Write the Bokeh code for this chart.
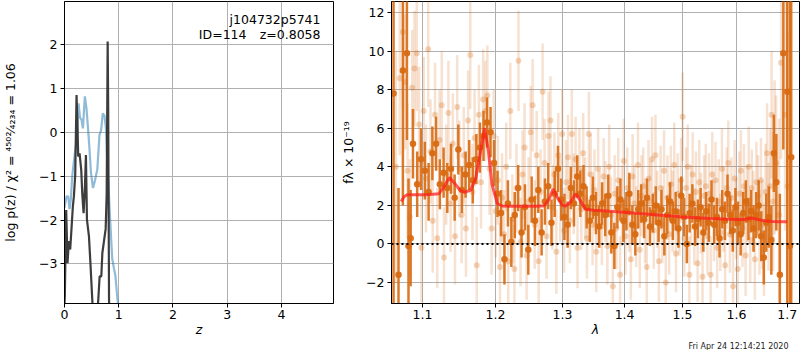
from bokeh.plotting import figure
from bokeh.models import Range1d, FixedTicker, CustomJSTickFormatter, Span, Label, ColumnDataSource, Title
from bokeh.layouts import row
from bokeh.embed import file_html
from bokeh.resources import INLINE

FONT = "DejaVu Sans"
FS = "12.5px"

# ---------------- left panel: log p(z) ----------------
z_dark = [0.0, 0.006, 0.031, 0.056, 0.080, 0.105, 0.130, 0.154, 0.173, 0.198,
          0.222, 0.241, 0.253, 0.278, 0.309, 0.327, 0.352, 0.377, 0.395, 0.414,
          0.451, 0.481, 0.512, 0.540, 0.580, 0.623, 0.648, 0.679, 0.698, 0.728,
          0.759, 0.778, 0.796, 0.806, 0.821, 0.850]
lp_dark = [-3.90, -3.73, -1.77, -2.98, -2.48, -2.67, -2.18, -1.69, -1.46, -0.97,
           0.85, 0.05, -0.55, -0.48, -0.86, -1.39, -1.84, -1.23, -0.52, -1.99,
           -2.37, -3.05, -3.81, -4.40, -4.60, -3.81, -3.28, -3.28, -2.75, -2.48,
           -2.20, -1.39, 2.07, 0.50, -3.81, -5.00]

z_blue = [0.0, 0.037, 0.068, 0.093, 0.117, 0.142, 0.173, 0.204, 0.231, 0.259,
          0.285, 0.315, 0.340, 0.375, 0.405, 0.433, 0.458, 0.487, 0.525, 0.562,
          0.605, 0.645, 0.675, 0.706, 0.738, 0.764, 0.800, 0.840, 0.880, 0.912,
          0.940, 0.972, 1.003, 1.070]
lp_blue = [-1.72, -1.46, -1.46, -1.75, -1.52, -1.01, -0.66, -0.36, -0.12, 0.66,
           0.34, 0.28, 0.09, 0.82, 0.55, 0.10, -0.33, -0.90, -1.27, -1.10,
           -0.84, -0.06, 0.05, 0.43, 0.38, 0.08, -0.97, -1.95, -2.88, -3.10,
           -3.28, -3.75, -4.05, -5.20]

z_ticks = [0, 1, 2, 3, 4]
lp_ticks = [-3, -2, -1, 0, 1, 2]

# ---------------- right panel: spectrum ----------------
lam_dark = [1.0626, 1.0689, 1.0745, 1.0797, 1.0817, 1.0845, 1.0875,
            1.093, 1.098, 1.103, 1.108, 1.113, 1.118, 1.123, 1.128, 1.133, 1.138,
            1.143, 1.148, 1.153, 1.158, 1.163, 1.168, 1.173, 1.178, 1.183, 1.188,
            1.193, 1.198, 1.203, 1.208, 1.213, 1.218, 1.223, 1.228, 1.233, 1.238,
            1.243, 1.248, 1.253, 1.258, 1.263, 1.268, 1.273, 1.278, 1.283, 1.288,
            1.293, 1.298, 1.303, 1.308, 1.313, 1.318, 1.323, 1.328, 1.333, 1.338,
            1.343, 1.348, 1.353, 1.358, 1.363, 1.368, 1.373, 1.378, 1.383, 1.388,
            1.393, 1.398, 1.403, 1.408, 1.413, 1.418, 1.423, 1.428, 1.433, 1.438,
            1.443, 1.448, 1.453, 1.458, 1.463, 1.468, 1.473, 1.478, 1.483, 1.488,
            1.493, 1.498, 1.503, 1.508, 1.513, 1.518, 1.523, 1.528, 1.533, 1.538,
            1.543, 1.548, 1.553, 1.558, 1.563, 1.568, 1.573, 1.578, 1.583, 1.588,
            1.593, 1.598, 1.603, 1.608, 1.613, 1.618, 1.623, 1.628, 1.633, 1.638,
            1.643, 1.648, 1.653, 1.658, 1.663, 1.668,
            1.673, 1.678, 1.685, 1.692, 1.700, 1.7055, 1.708]
flux_dark = [7.8, -1.6, 9.0, 9.9, -0.1, 0.3, 5.2,
             3.1, 4.4, 3.8, 2.7, 4.7, 5.2, 3.1, 3.7, 2.9, 3.9,
             2.4, 4.9, 2.8, 3.6, 4.1, 3.3, 4.4, 5.0, 5.6, 6.3,
             5.8, 4.2, 2.6, 1.6, -0.8, 2.1, 0.1, 1.5, 2.9, 0.6,
             1.9, -0.3, 2.3, 1.2, 2.8, 0.6, 2.2, 3.0, 1.1, 2.6,
             3.9, 2.3, 1.4, 1.0, 2.9, 2.1, 3.5, 2.6, 3.0, 1.9,
             1.2, 2.4, 1.6, 0.9, 2.1, 1.5, 2.5, 0.6, -0.1, 1.9,
             2.3, 1.2, 1.7, 2.6, 1.0, 0.5, 1.8, 2.1, 1.3, 2.4,
             0.9, 1.6, 2.0, 1.1, 1.8, 0.4, 1.5, 2.2, 1.2, 1.7,
             0.8, 2.5, 1.4, 0.0, 1.6, 2.1, 0.9, 1.3, 1.9, 0.6,
             1.7, 1.1, 2.3, 1.0, 1.4, 0.3, 1.8, 1.2, 2.6, 1.5,
             0.7, 1.9, 1.1, 0.5, 1.6, 2.2, 1.3, 1.7, 0.8, 1.5,
             2.0, 0.4, -0.7, 1.1, 1.4, 0.2,
             4.7, 3.2, -1.6, 9.9, 7.9, -0.1, 4.5]
err_dark = [20.0, 4.5, 7.0, 4.5, 3.5, 2.5, 1.8,
            1.7, 1.6, 1.5, 1.5, 1.4, 1.4, 1.3, 1.3, 1.3, 1.3,
            1.2, 1.3, 1.2, 1.2, 1.3, 1.2, 1.3, 1.3, 1.3, 1.3,
            1.3, 1.2, 1.2, 1.2, 1.3, 1.2, 1.3, 1.2, 1.2, 1.3,
            1.2, 1.3, 1.2, 1.3, 1.2, 1.2, 1.2, 1.2, 1.2, 1.2,
            1.2, 1.1, 1.2, 1.2, 1.1, 1.2, 1.1, 1.2, 1.1, 1.1,
            1.1, 1.1, 1.1, 1.1, 1.1, 1.1, 1.1, 1.1, 1.2, 1.1,
            1.1, 1.1, 1.0, 1.1, 1.0, 1.1, 1.0, 1.0, 1.0, 1.0,
            1.0, 1.0, 1.0, 1.0, 1.0, 1.0, 1.0, 1.0, 1.0, 1.0,
            1.0, 1.0, 1.0, 1.0, 1.0, 1.0, 1.0, 1.0, 1.0, 1.0,
            1.0, 1.0, 1.0, 1.0, 1.0, 1.0, 1.0, 1.0, 1.0, 1.0,
            1.1, 1.0, 1.1, 1.1, 1.1, 1.1, 1.1, 1.1, 1.2, 1.2,
            1.3, 1.3, 1.4, 1.5, 1.6, 1.8,
            2.0, 2.5, 4.2, 5.0, 12.0, 13.0, 14.0]

lam_light = [1.0655, 1.0705, 1.0745, 1.0775, 1.0805, 1.0835, 1.0865, 1.0895, 1.0925, 1.0955,
             1.0985, 1.1015, 1.1045, 1.1075, 1.1105, 1.1135, 1.1165, 1.1195, 1.1225, 1.1255,
             1.1285, 1.1315, 1.1345, 1.1375, 1.1405, 1.1435, 1.1465, 1.1495, 1.1525, 1.1555,
             1.1585, 1.1615, 1.1645, 1.1675, 1.1705, 1.1735, 1.1765, 1.1795, 1.1825, 1.1855,
             1.1885, 1.1915, 1.1945, 1.1975, 1.2005, 1.2035, 1.2065, 1.2095, 1.2125, 1.2155,
             1.2185, 1.2215, 1.2245, 1.2275, 1.2305, 1.2335, 1.2365, 1.2395, 1.2425, 1.2455,
             1.2485, 1.2515, 1.2545, 1.2575, 1.2605, 1.2635, 1.2665, 1.2695, 1.2725, 1.2755,
             1.2785, 1.2815, 1.2845, 1.2875, 1.2905, 1.2935, 1.2965, 1.2995, 1.3025, 1.3055,
             1.3085, 1.3115, 1.3145, 1.3175, 1.3205, 1.3235, 1.3265, 1.3295, 1.3325, 1.3355,
             1.3385, 1.3415, 1.3445, 1.3475, 1.3505, 1.3535, 1.3565, 1.3595, 1.3625, 1.3655,
             1.3685, 1.3715, 1.3745, 1.3775, 1.3805, 1.3835, 1.3865, 1.3895, 1.3925, 1.3955,
             1.3985, 1.4015, 1.4045, 1.4075, 1.4105, 1.4135, 1.4165, 1.4195, 1.4225, 1.4255,
             1.4285, 1.4315, 1.4345, 1.4375, 1.4405, 1.4435, 1.4465, 1.4495, 1.4525, 1.4555,
             1.4585, 1.4615, 1.4645, 1.4675, 1.4705, 1.4735, 1.4765, 1.4795, 1.4825, 1.4855,
             1.4885, 1.4915, 1.4945, 1.4975, 1.5005, 1.5035, 1.5065, 1.5095, 1.5125, 1.5155,
             1.5185, 1.5215, 1.5245, 1.5275, 1.5305, 1.5335, 1.5365, 1.5395, 1.5425, 1.5455,
             1.5485, 1.5515, 1.5545, 1.5575, 1.5605, 1.5635, 1.5665, 1.5695, 1.5725, 1.5755,
             1.5785, 1.5815, 1.5845, 1.5875, 1.5905, 1.5935, 1.5965, 1.5995, 1.6025, 1.6055,
             1.6085, 1.6115, 1.6145, 1.6175, 1.6205, 1.6235, 1.6265, 1.6295, 1.6325, 1.6355,
             1.6385, 1.6415, 1.6445, 1.6475, 1.6505, 1.6535, 1.6565, 1.6595, 1.6625, 1.6655,
             1.6685, 1.6715, 1.6745, 1.6775, 1.6835, 1.6875, 1.6955, 1.7005]
flux_light = [4.0, 8.6, 11.0, 8.4, 3.8, 1.4, 8.1, 9.1, 9.9, 6.2,
              -0.2, 6.9, 3.4, 10.1, 4.8, 1.2, 6.7, 0.3, 5.4, 7.2,
              -0.7, 3.6, 6.8, 2.1, 5.2, 0.4, 7.1, 3.9, 1.5, 4.6,
              0.8, 6.4, 9.8, 2.7, 5.5, -1.1, 6.7, 3.2, 7.5, 6.9,
              7.7, 3.9, 0.8, 5.6, 1.7, 3.3, -1.2, 2.4, 0.5, 4.0,
              -0.9, 6.9, 1.3, -1.3, 2.9, 9.5, 0.1, 3.6, 5.0, -0.6,
              2.2, 5.8, 7.2, 1.0, 4.6, -0.9, 2.7, 7.9, 4.2, 0.4,
              5.6, 6.4, 1.9, 3.6, -0.4, 4.6, 2.3, 5.7, 0.7, 3.2,
              4.5, 1.2, 5.7, 2.6, 4.4, -0.2, 3.9, 1.8, 4.7, 2.4,
              0.3, 5.7, 3.6, 1.0, 2.8, -0.4, 3.9, 1.8, 0.9, 3.5,
              2.2, -0.1, 4.0, 1.5, -2.2, 2.6, 0.8, 3.3, -1.6, 2.0,
              4.3, 0.4, 2.9, 1.6, -0.8, 3.5, 2.1, 0.9, 4.1, -0.3,
              2.5, 3.0, 1.2, -1.2, 3.4, 2.2, 4.4, 0.7, 4.6, 1.8,
              -0.9, 2.9, 1.0, 3.8, -2.0, 2.4, 0.5, 3.1, 1.7, 4.1,
              -0.5, 2.6, 1.4, 3.3, 6.6, 0.3, 2.9, 4.0, -1.6, 2.0,
              3.6, 0.9, 2.7, -1.0, 3.2, 1.6, -1.7, 2.5, 3.0, 0.4,
              2.6, -1.6, 3.6, 1.2, 3.3, -0.2, 2.2, 0.6, 3.9, 1.8,
              -1.1, 2.9, 4.2, 0.5, 2.4, -2.2, 3.4, 1.3, -1.3, 2.6,
              3.8, 0.8, 3.0, -0.6, 2.1, 4.0, 0.2, 2.9, 1.7, -0.8,
              3.2, 2.5, 0.6, 3.3, 1.0, -0.3, 2.7, 4.7, 1.4, 3.0,
              6.7, 2.2, 4.5, 4.2, 1.5, 9.4, 6.7, 3.0]
err_light = [6.0, 4.0, 4.0, 3.5, 3.5, 3.0, 3.0, 3.0, 3.0, 3.0,
             2.8, 2.8, 2.8, 3.0, 2.7, 2.7, 2.7, 2.6, 2.6, 2.8,
             2.6, 2.6, 2.7, 2.5, 2.6, 2.5, 2.7, 2.5, 2.5, 2.5,
             2.5, 2.6, 2.8, 2.5, 2.5, 2.5, 2.6, 2.4, 2.6, 2.6,
             2.6, 2.4, 2.4, 2.4, 2.4, 2.3, 2.3, 2.3, 2.3, 2.3,
             2.3, 2.5, 2.3, 2.3, 2.3, 2.6, 2.3, 2.3, 2.3, 2.3,
             2.3, 2.4, 2.4, 2.3, 2.3, 2.3, 2.2, 2.5, 2.3, 2.2,
             2.3, 2.3, 2.2, 2.2, 2.2, 2.2, 2.2, 2.3, 2.2, 2.2,
             2.2, 2.2, 2.3, 2.1, 2.2, 2.1, 2.1, 2.1, 2.1, 2.1,
             2.1, 2.2, 2.1, 2.1, 2.1, 2.1, 2.1, 2.0, 2.0, 2.0,
             2.1, 2.0, 2.2, 2.0, 2.1, 2.0, 2.1, 2.2, 2.0, 2.1,
             2.2, 2.0, 2.1, 2.0, 2.1, 2.2, 2.0, 2.1, 2.2, 2.0,
             2.1, 2.0, 2.2, 2.1, 2.0, 2.1, 2.2, 2.0, 2.1, 2.0,
             2.1, 2.2, 2.0, 2.1, 2.0, 2.2, 2.1, 2.0, 2.1, 2.2,
             2.0, 2.1, 2.0, 2.2, 2.3, 2.0, 2.1, 2.2, 2.0, 2.1,
             2.2, 2.0, 2.1, 2.0, 2.2, 2.1, 2.0, 2.1, 2.2, 2.0,
             2.1, 2.0, 2.2, 2.1, 2.0, 2.1, 2.2, 2.0, 2.1, 2.2,
             2.0, 2.1, 2.2, 2.0, 2.1, 2.2, 2.0, 2.1, 2.0, 2.2,
             2.1, 2.0, 2.2, 2.1, 2.0, 2.1, 2.2, 2.0, 2.1, 2.1,
             2.1, 2.1, 2.2, 2.2, 2.3, 2.4, 2.5, 2.6, 2.8, 3.0,
             3.3, 3.6, 4.0, 3.5, 5.0, 5.0, 6.0, 8.0]

lam_model = [1.0724, 1.076, 1.080, 1.090, 1.100, 1.110, 1.1216, 1.128, 1.136, 1.144,
             1.150, 1.156, 1.165, 1.172, 1.178, 1.1845, 1.190, 1.195, 1.2027, 1.210,
             1.220, 1.240, 1.260, 1.2716, 1.279, 1.2855, 1.292, 1.300, 1.305, 1.312,
             1.3205, 1.327, 1.336, 1.350, 1.375, 1.400, 1.425, 1.450, 1.475, 1.500,
             1.525, 1.550, 1.575, 1.600, 1.615, 1.6286, 1.640, 1.655, 1.670, 1.685, 1.700]
f_model = [2.20, 2.45, 2.55, 2.55, 2.55, 2.56, 2.60, 2.95, 3.45, 3.10,
           2.80, 2.68, 2.78, 3.40, 4.60, 6.00, 4.80, 3.10, 2.10, 1.97,
           1.95, 1.95, 1.95, 1.98, 2.30, 2.85, 2.40, 2.00, 1.97, 2.15,
           2.60, 2.30, 1.80, 1.75, 1.70, 1.65, 1.58, 1.52, 1.46, 1.40,
           1.36, 1.32, 1.29, 1.27, 1.27, 1.35, 1.28, 1.20, 1.16, 1.15, 1.15]

lam_ticks = [1.1, 1.2, 1.3, 1.4, 1.5, 1.6, 1.7]
f_ticks = [-2, 0, 2, 4, 6, 8, 10, 12]

ORANGE = "#d86a12"
MINUS_FMT = "return (tick < 0 ? '\\u2212' : '') + Math.abs(tick).toString();"

HEIGHT = 350
BORDER_TOP = 1
BORDER_BOTTOM = 45


def style(p, xticks, yticks, xfmt_code, yfmt_code):
    p.background_fill_color = "white"
    p.border_fill_color = "white"
    p.outline_line_color = "black"
    p.outline_line_width = 1
    p.outline_line_alpha = 1
    for ax in (p.xaxis[0], p.yaxis[0]):
        ax.axis_line_color = "black"
        ax.major_tick_line_color = "black"
        ax.major_tick_out = 4
        ax.major_tick_in = 0
        ax.minor_tick_line_color = None
        ax.major_label_text_font = FONT
        ax.major_label_text_font_size = FS
        ax.major_label_text_color = "black"
        ax.axis_label_text_font = FONT
        ax.axis_label_text_font_size = FS
        ax.axis_label_text_color = "black"
        ax.major_label_standoff = 3
    p.xaxis[0].major_label_standoff = 2
    p.xaxis[0].ticker = FixedTicker(ticks=xticks)
    p.yaxis[0].ticker = FixedTicker(ticks=yticks)
    p.xaxis[0].formatter = CustomJSTickFormatter(code=xfmt_code)
    p.yaxis[0].formatter = CustomJSTickFormatter(code=yfmt_code)
    p.xgrid[0].ticker = FixedTicker(ticks=xticks)
    p.ygrid[0].ticker = FixedTicker(ticks=yticks)
    for g in (p.xgrid[0], p.ygrid[0]):
        g.grid_line_color = "#b0b0b0"
        g.grid_line_width = 1
        g.grid_line_alpha = 1
    p.xaxis[0].axis_label_standoff = 0
    p.xaxis[0].axis_label_text_font_style = "italic"
    p.yaxis[0].axis_label_text_font_style = "normal"


# ---------- left figure ----------
p1 = figure(width=336, height=HEIGHT, x_range=Range1d(0, 4.96), y_range=Range1d(-3.9, 2.98),
            output_backend="svg", toolbar_location=None,
            min_border_left=62, min_border_right=3,
            min_border_top=BORDER_TOP, min_border_bottom=BORDER_BOTTOM)
style(p1, z_ticks, lp_ticks, MINUS_FMT, MINUS_FMT)
p1.xaxis.axis_label = "z"
p1.yaxis.axis_label = "log p(z) / \u03c7\u00b2 = \u2074\u2075\u2070\u00b2\u2044\u2084\u2082\u2083\u2084 = 1.06"
p1.yaxis.axis_label_standoff = 18

p1.line(z_blue, lp_blue, line_color="#1f77b4", line_alpha=0.5, line_width=2.2)
p1.line(z_dark, lp_dark, line_color="#333333", line_alpha=0.95, line_width=2.2)

FRAME1_W = 271
FRAME_H = HEIGHT - BORDER_TOP - BORDER_BOTTOM
for txt, dx, dy in (("j104732p5741", 15, 12), ("ID=114", 89, 27), ("z=0.8058", 15, 27)):
    p1.add_layout(Label(x=FRAME1_W - dx, y=FRAME_H - dy, x_units="screen", y_units="screen",
                        text=txt, text_align="right", text_baseline="top",
                        text_font=FONT, text_font_size=FS, text_color="black"))

# ---------- right figure ----------
p2 = figure(width=464, height=HEIGHT, x_axis_type="log",
            x_range=Range1d(1.06, 1.725), y_range=Range1d(-3.09, 12.58),
            output_backend="svg", toolbar_location=None,
            min_border_left=55, min_border_right=1,
            min_border_top=BORDER_TOP, min_border_bottom=BORDER_BOTTOM)
style(p2, lam_ticks, f_ticks, "return tick.toFixed(1);", MINUS_FMT)
p2.xaxis.axis_label = "\u03bb"
p2.yaxis.axis_label = "f\u03bb \u00d7 10\u207b\u00b9\u2079"
p2.yaxis.axis_label_standoff = 7

src_light = ColumnDataSource(dict(
    x=lam_light, y=flux_light,
    lo=[f - e for f, e in zip(flux_light, err_light)],
    hi=[f + e for f, e in zip(flux_light, err_light)]))
src_dark = ColumnDataSource(dict(
    x=lam_dark, y=flux_dark,
    lo=[f - e for f, e in zip(flux_dark, err_dark)],
    hi=[f + e for f, e in zip(flux_dark, err_dark)]))

p2.segment(x0="x", y0="lo", x1="x", y1="hi", source=src_light,
           line_color=ORANGE, line_alpha=0.2, line_width=2.5)
p2.scatter(x="x", y="y", source=src_light, size=6, fill_color=ORANGE,
           fill_alpha=0.28, line_color=None)
p2.segment(x0="x", y0="lo", x1="x", y1="hi", source=src_dark,
           line_color=ORANGE, line_alpha=0.9, line_width=2.5)
p2.scatter(x="x", y="y", source=src_dark, size=6.5, fill_color=ORANGE,
           fill_alpha=0.95, line_color=None)
p2.line(lam_model, f_model, line_color="#ff1a1a", line_alpha=0.72, line_width=3)
p2.add_layout(Span(location=0, dimension="width", line_color="black",
                   line_dash="2 3", line_width=2))

p2.add_layout(Title(text="Fri Apr 24 12:14:21 2020", align="right", offset=11,
                    standoff=0, text_font=FONT, text_font_size="8px",
                    text_font_style="normal", text_color="#222222"), "below")

layout = row(p1, p2)
open("out.html", "w").write(file_html(layout, INLINE))
